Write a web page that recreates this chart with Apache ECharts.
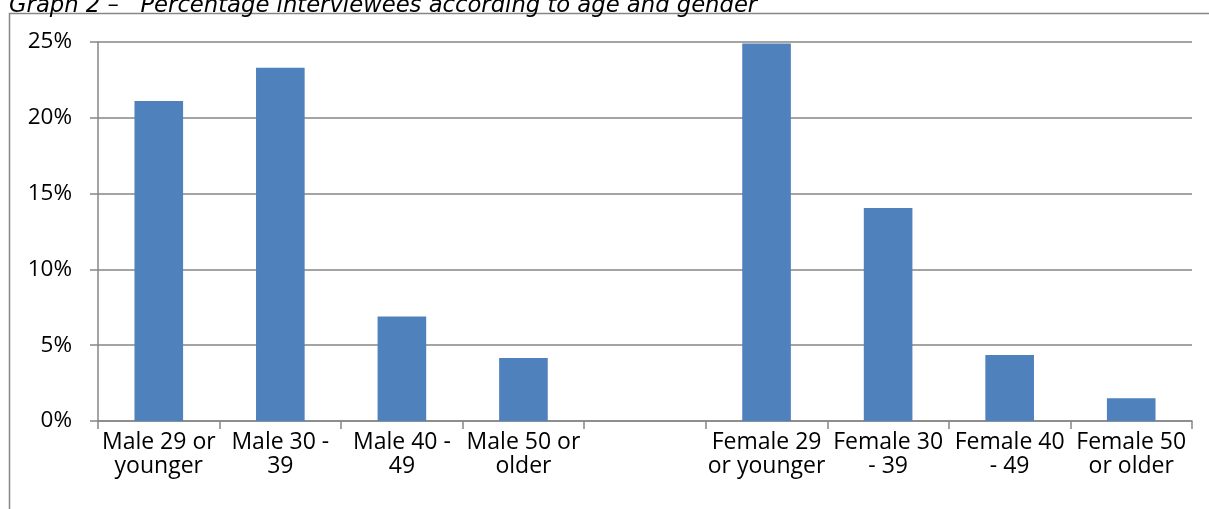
<!DOCTYPE html>
<html><head><meta charset="utf-8">
<script src="https://cdn.jsdelivr.net/npm/echarts@6/dist/echarts.min.js"></script>
<style>html,body{margin:0;padding:0;background:#fff}#c{width:1209px;height:509px}</style>
</head><body><div id="c"></div>
<script>
const categories = ["Male 29 or\nyounger","Male 30 -\n39","Male 40 -\n49","Male 50 or\nolder","","Female 29\nor younger","Female 30\n- 39","Female 40\n- 49","Female 50\nor older"];
const values = [21.1, 23.3, 6.9, 4.15, null, 24.9, 14.05, 4.35, 1.5];
const yTicks = [0, 5, 10, 15, 20, 25];
const titleText = "Graph 2 \u2013   Percentage interviewees according to age and gender";

const chart = echarts.init(document.getElementById('c'), null, {renderer:'canvas'});
chart.setOption({
  animation: false,
  backgroundColor: '#fff',
  graphic: [
    {type:'rect', shape:{x:9.5, y:13.5, width:1300, height:600}, style:{fill:'none', stroke:'#878787', lineWidth:1.5}, silent:true},
    {type:'text', left:9, top:-5, style:{text:titleText, font:'italic 22.7px "DejaVu Sans"', fill:'#000'}}
  ],
  grid: {left:98, right:17, top:42, bottom:88, containLabel:false},
  xAxis: {
    type:'category', data:categories,
    axisLine:{lineStyle:{color:'#868686', width:1.5}},
    axisTick:{show:true, length:8, lineStyle:{color:'#868686', width:1.5}},
    axisLabel:{color:'#000', fontSize:23, fontFamily:'"Open Sans", sans-serif', lineHeight:24, margin:9, interval:0}
  },
  yAxis: {
    type:'value', min:0, max:25, interval:5,
    axisLine:{show:true, lineStyle:{color:'#868686', width:1.5}},
    axisTick:{show:true, length:8, lineStyle:{color:'#868686', width:1.5}},
    splitLine:{lineStyle:{color:'#868686', width:1.5}},
    axisLabel:{color:'#000', fontSize:22.5, fontFamily:'"Open Sans", sans-serif', margin:26, formatter: v => yTicks.includes(v) ? v + '%' : ''}
  },
  series: [{
    type:'bar', data:values, barCategoryGap:'60%',
    itemStyle:{color:'#4F81BD'}
  }]
});
</script></body></html>
